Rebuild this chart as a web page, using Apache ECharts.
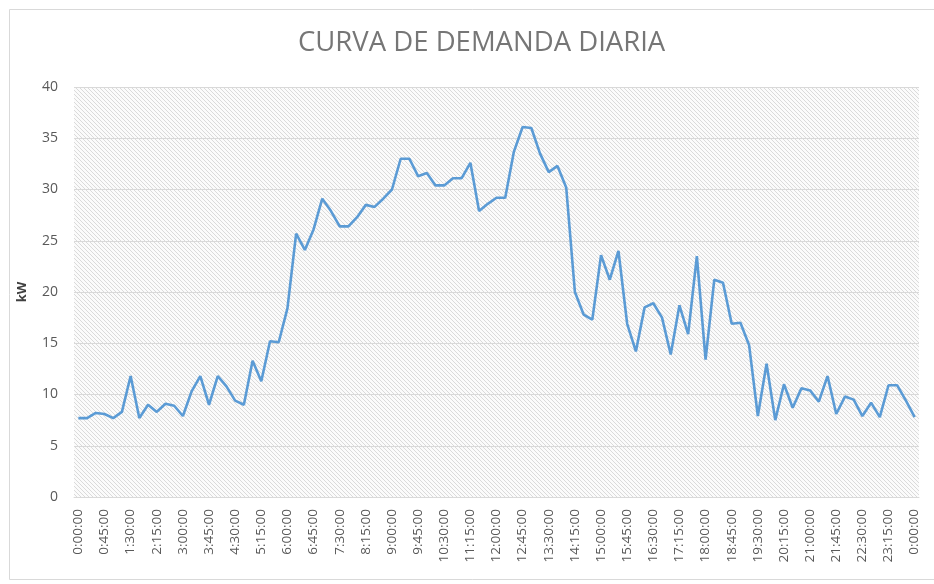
<!DOCTYPE html>
<html>
<head>
<meta charset="utf-8">
<script src="https://cdn.jsdelivr.net/npm/echarts@6/dist/echarts.min.js"></script>
<style>
html,body{margin:0;padding:0;background:#fff;}
#chart{width:934px;height:584px;}
</style>
</head>
<body>
<div id="chart"></div>
<script>
var titleText = 'CURVA DE DEMANDA DIARIA';
var yAxisName = 'kW';
var times = [
'0:00:00','0:15:00','0:30:00','0:45:00','1:00:00','1:15:00','1:30:00','1:45:00',
'2:00:00','2:15:00','2:30:00','2:45:00','3:00:00','3:15:00','3:30:00','3:45:00',
'4:00:00','4:15:00','4:30:00','4:45:00','5:00:00','5:15:00','5:30:00','5:45:00',
'6:00:00','6:15:00','6:30:00','6:45:00','7:00:00','7:15:00','7:30:00','7:45:00',
'8:00:00','8:15:00','8:30:00','8:45:00','9:00:00','9:15:00','9:30:00','9:45:00',
'10:00:00','10:15:00','10:30:00','10:45:00','11:00:00','11:15:00','11:30:00','11:45:00',
'12:00:00','12:15:00','12:30:00','12:45:00','13:00:00','13:15:00','13:30:00','13:45:00',
'14:00:00','14:15:00','14:30:00','14:45:00','15:00:00','15:15:00','15:30:00','15:45:00',
'16:00:00','16:15:00','16:30:00','16:45:00','17:00:00','17:15:00','17:30:00','17:45:00',
'18:00:00','18:15:00','18:30:00','18:45:00','19:00:00','19:15:00','19:30:00','19:45:00',
'20:00:00','20:15:00','20:30:00','20:45:00','21:00:00','21:15:00','21:30:00','21:45:00',
'22:00:00','22:15:00','22:30:00','22:45:00','23:00:00','23:15:00','23:30:00','23:45:00',
'0:00:00'
];
var demandKW = [
7.7,7.7,8.2,8.1,7.7,8.3,11.8,7.7,9.0,8.3,
9.1,8.9,7.9,10.3,11.8,9.0,11.8,10.8,9.4,9.0,
13.3,11.3,15.2,15.1,18.4,25.7,24.1,26.1,29.1,27.9,
26.4,26.4,27.3,28.5,28.3,29.1,30.0,33.0,33.0,31.3,
31.6,30.4,30.4,31.1,31.1,32.6,27.9,28.6,29.2,29.2,
33.7,36.1,36.0,33.5,31.7,32.3,30.2,20.0,17.8,17.3,
23.6,21.2,24.0,16.9,14.2,18.5,18.9,17.5,13.9,18.7,
15.9,23.5,13.4,21.2,20.9,16.9,17.0,14.8,7.9,13.0,
7.5,11.0,8.7,10.6,10.4,9.3,11.8,8.1,9.8,9.5,
7.9,9.2,7.8,10.9,10.9,9.4,7.8
];

// hatched background pattern
var pc = document.createElement('canvas');
pc.width = 4; pc.height = 4;
var ctx = pc.getContext('2d');
ctx.fillStyle = '#fbfbfb';
ctx.fillRect(0,0,4,4);
ctx.strokeStyle = '#dadada';
ctx.lineWidth = 1;
ctx.beginPath();
ctx.moveTo(-1,-1); ctx.lineTo(5,5);
ctx.moveTo(-1,3); ctx.lineTo(1,5);
ctx.moveTo(3,-1); ctx.lineTo(5,1);
ctx.stroke();

var chart = echarts.init(document.getElementById('chart'), null, {renderer:'canvas'});
chart.setOption({
  animation: false,
  backgroundColor: '#ffffff',
  title: {
    text: titleText,
    left: 293,
    top: 24,
    textStyle: {fontFamily: 'Open Sans', fontSize: 27.5, fontWeight: 'normal', color: '#767676'}
  },
  graphic: [{
    type: 'rect',
    shape: {x: 9.5, y: 9.5, width: 940, height: 570},
    style: {fill: 'none', stroke: '#d9d9d9', lineWidth: 1},
    silent: true, z: -1
  }],
  grid: {
    left: 74, right: 15, top: 87, bottom: 87,
    show: true,
    backgroundColor: {image: pc, repeat: 'repeat'},
    borderWidth: 0
  },
  xAxis: {
    type: 'category',
    data: times,
    boundaryGap: true,
    axisLine: {show: true, lineStyle: {color: '#d9d9d9', width: 1}},
    axisTick: {show: false},
    axisLabel: {interval: 2, rotate: 90, margin: 12, fontFamily: 'Open Sans', fontSize: 13.5, color: '#595959'},
    splitLine: {show: false}
  },
  yAxis: {
    type: 'value',
    min: 0, max: 40, interval: 5,
    name: yAxisName,
    nameLocation: 'middle',
    nameRotate: 90,
    nameGap: 45,
    nameTextStyle: {fontFamily: 'Open Sans', fontSize: 13, fontWeight: 'bold', color: '#404040'},
    axisLine: {show: false},
    axisTick: {show: false},
    axisLabel: {margin: 16, fontFamily: 'Open Sans', fontSize: 14, color: '#595959'},
    splitLine: {show: true, lineStyle: {color: '#d9d9d9', width: 1}}
  },
  series: [{
    type: 'line',
    data: demandKW,
    showSymbol: false,
    symbol: 'none',
    smooth: false,
    lineStyle: {color: '#5B9BD5', width: 2.6},
    z: 3
  }]
});
</script>
</body>
</html>
